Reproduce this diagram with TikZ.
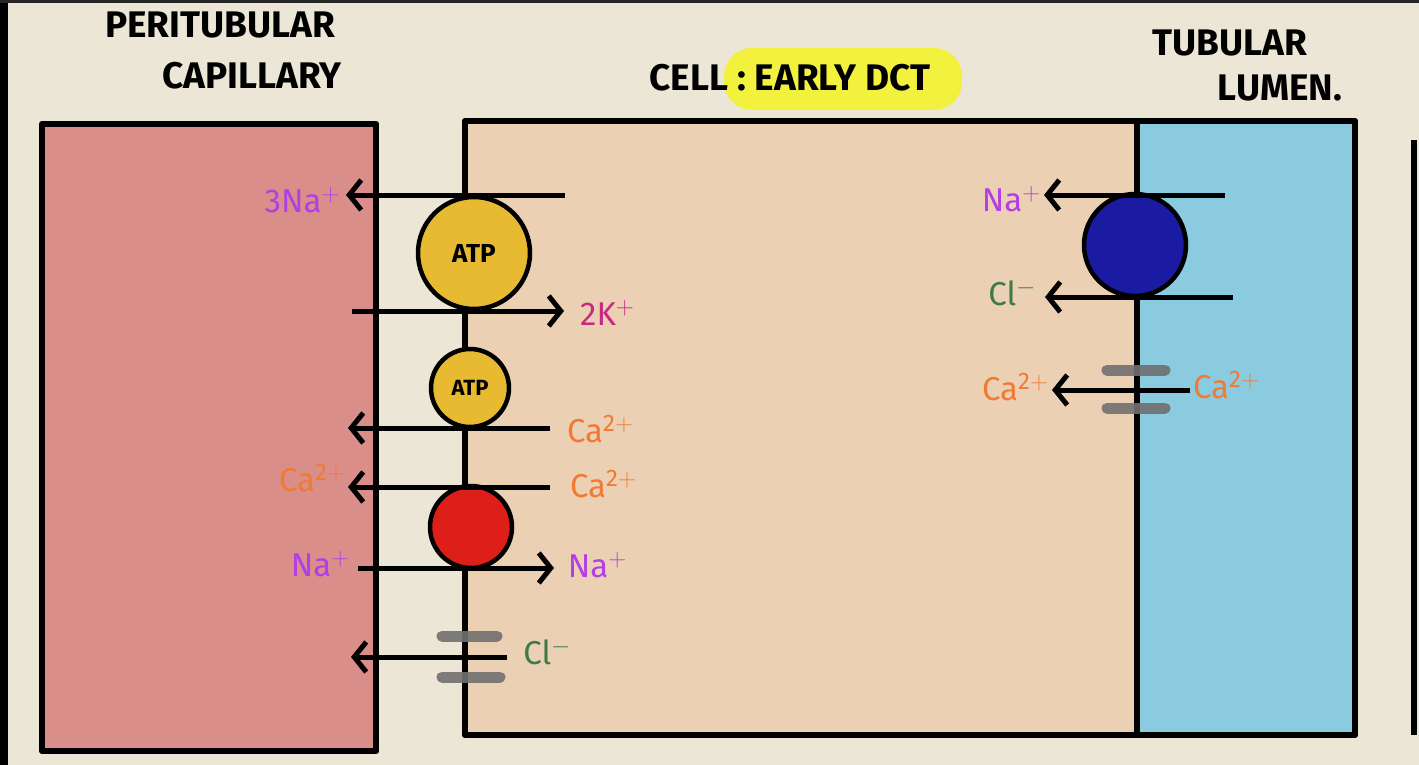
\documentclass[tikz,border=0pt]{standalone}
\usepackage{fontspec}
\setmainfont{Fira Sans}
\usetikzlibrary{arrows.meta}
\definecolor{bgc}{RGB}{236,230,214}
\definecolor{capc}{RGB}{218,142,138}
\definecolor{cellc}{RGB}{236,208,180}
\definecolor{lumc}{RGB}{139,203,224}
\definecolor{goldc}{RGB}{232,186,50}
\definecolor{redc}{RGB}{222,30,24}
\definecolor{bluec}{RGB}{26,26,162}
\definecolor{barc}{RGB}{112,112,112}
\definecolor{purc}{RGB}{178,62,230}
\definecolor{magc}{RGB}{200,42,130}
\definecolor{orc}{RGB}{240,122,52}
\definecolor{grc}{RGB}{62,122,72}
\definecolor{hlc}{RGB}{242,242,62}
\newcommand{\ionsup}[1]{\raisebox{11pt}{\fontsize{24}{24}\selectfont #1}}
\begin{document}
\begin{tikzpicture}[x=1pt,y=-1pt,
  wall/.style={draw=black,line width=6.5pt,line join=round},
  flux/.style={draw=black,line width=5pt,-{Straight Barb[length=12pt,width=30pt,line width=5pt]}},
  pump/.style={circle,draw=black,line width=4.5pt,inner sep=0pt,font=\bfseries\fontsize{26}{28}\selectfont},
  bar/.style={draw=barc,line width=11pt,line cap=round,opacity=0.9},
  lbl/.style={inner sep=0pt,font=\fontsize{33}{35}\selectfont},
  ttl/.style={inner sep=0pt,font=\bfseries\fontsize{37}{39}\selectfont}]
\useasboundingbox (0,0) rectangle (1419,765);
\fill[bgc] (0,0) rectangle (1419,765);
\fill[black] (0,0) rectangle (8,765);
\fill[black!85] (0,0) rectangle (1419,3);
% compartments
\filldraw[wall,fill=capc] (42,124) rectangle (376,751);
\filldraw[wall,fill=cellc] (465,121) rectangle (1137,735);
\filldraw[wall,fill=lumc] (1137,121) rectangle (1355,735);
\draw[line width=6pt] (1414,140) -- (1414,735);
% titles
\fill[hlc,rounded corners=28pt] (724,48) rectangle (962,110);
\node[ttl] (tperi) at (220,25) {PERITUBULAR};
\node[ttl] (tcap) at (252,76) {CAPILLARY};
\node[ttl] (tcell) at (790,78) {CELL : EARLY DCT};
\node[ttl] (ttub) at (1230,43) {TUBULAR};
\node[ttl] (tlum) at (1280,88) {LUMEN.};
% basolateral transporters
\node[pump,fill=goldc,minimum size=112pt] (atpa) at (474,253) {ATP};
\node[pump,fill=goldc,minimum size=78pt,font=\bfseries\fontsize{22}{24}\selectfont] (atpb) at (470,388) {ATP};
\node[pump,fill=redc,minimum size=82pt] (ncx) at (471,527) {};
% apical transporter
\node[pump,fill=bluec,minimum size=102pt] (ncc) at (1135,245) {};
% coordinates for fluxes
\coordinate (na3s) at (565,195); \coordinate (na3e) at (346,195);
\coordinate (k2s) at (352,311); \coordinate (k2e) at (564,311);
\coordinate (ca1s) at (550,428); \coordinate (ca1e) at (348,428);
\coordinate (ca2s) at (550,487); \coordinate (ca2e) at (348,487);
\coordinate (na2s) at (358,568); \coordinate (na2e) at (554,568);
\coordinate (cl1s) at (507,657); \coordinate (cl1e) at (351,657);
\coordinate (na1s) at (1225,195); \coordinate (na1e) at (1044,195);
\coordinate (cl2s) at (1233,297); \coordinate (cl2e) at (1045,297);
\coordinate (ca3s) at (1190,390); \coordinate (ca3e) at (1052,390);
\draw[flux] (na3s) -- (na3e);
\draw[flux] (k2s) -- (k2e);
\draw[flux] (ca1s) -- (ca1e);
\draw[flux] (ca2s) -- (ca2e);
\draw[flux] (na2s) -- (na2e);
\draw[flux] (cl1s) -- (cl1e);
\draw[flux] (na1s) -- (na1e);
\draw[flux] (cl2s) -- (cl2e);
\draw[flux] (ca3s) -- (ca3e);
% channels
\coordinate (b1a) at (442,636); \coordinate (b1b) at (497,636);
\coordinate (b2a) at (442,677); \coordinate (b2b) at (500,677);
\coordinate (b3a) at (1107,370); \coordinate (b3b) at (1165,370);
\coordinate (b4a) at (1107,408); \coordinate (b4b) at (1165,408);
\draw[bar] (b1a) -- (b1b);
\draw[bar] (b2a) -- (b2b);
\draw[bar] (b3a) -- (b3b);
\draw[bar] (b4a) -- (b4b);
% labels
\node[lbl,text=purc] (l3na) at (302,200) {3Na\ionsup{$+$}};
\node[lbl,text=magc] (l2k) at (607,313) {2K\ionsup{$+$}};
\node[lbl,text=orc] (lca1) at (600,429) {Ca\ionsup{2$+$}};
\node[lbl,text=orc] (lca2l) at (312,478) {Ca\ionsup{2$+$}};
\node[lbl,text=orc] (lca2r) at (603,484) {Ca\ionsup{2$+$}};
\node[lbl,text=purc] (lna2l) at (320,564) {Na\ionsup{$+$}};
\node[lbl,text=purc] (lna2r) at (597,565) {Na\ionsup{$+$}};
\node[lbl,text=grc] (lcl1) at (547,652) {Cl\ionsup{$-$}};
\node[lbl,text=purc] (lna1) at (1011,199) {Na\ionsup{$+$}};
\node[lbl,text=grc] (lcl2) at (1012,293) {Cl\ionsup{$-$}};
\node[lbl,text=orc] (lca3l) at (1015,387) {Ca\ionsup{2$+$}};
\node[lbl,text=orc] (lca3r) at (1226,385) {Ca\ionsup{2$+$}};
\end{tikzpicture}
\end{document}
